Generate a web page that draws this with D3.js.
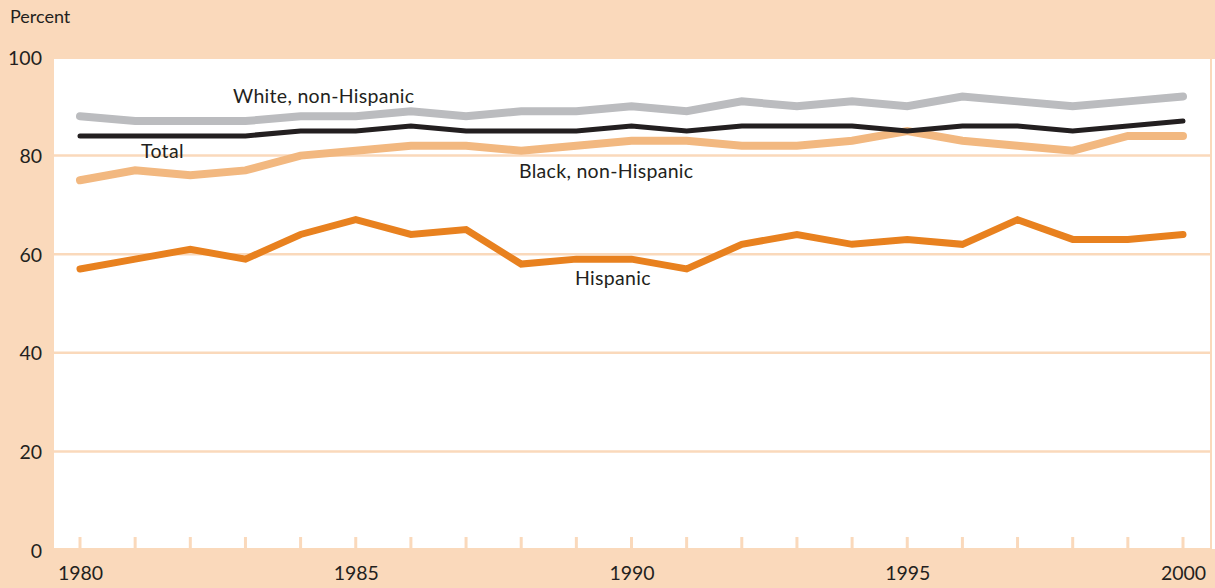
<!DOCTYPE html>
<html>
<head>
<meta charset="utf-8">
<script src="https://cdn.jsdelivr.net/npm/d3@7"></script>
<style>
  html, body { margin: 0; padding: 0; background: #fad9bb; }
  svg { display: block; }
  text { font-family: Lato, "Noto Sans", sans-serif; fill: #231f20; }
</style>
</head>
<body>
<svg id="chart" width="1215" height="588"></svg>
<script>
// Years on the x axis
const years = d3.range(1980, 2001);

// Percent values by group, 1980–2000
const white = [88, 87, 87, 87, 88, 88, 89, 88, 89, 89, 90, 89, 91, 90, 91, 90, 92, 91, 90, 91, 92];
const total = [84, 84, 84, 84, 85, 85, 86, 85, 85, 85, 86, 85, 86, 86, 86, 85, 86, 86, 85, 86, 87];
const black = [75, 77, 76, 77, 80, 81, 82, 82, 81, 82, 83, 83, 82, 82, 83, 85, 83, 82, 81, 84, 84];
const hispanic = [57, 59, 61, 59, 64, 67, 64, 65, 58, 59, 59, 57, 62, 64, 62, 63, 62, 67, 63, 63, 64];

// Axis tick values
const yTicks = [0, 20, 40, 60, 80, 100];
const xTickLabels = [1980, 1985, 1990, 1995, 2000];

const peach = "#fad9bb";
const svg = d3.select("#chart");

const x = d3.scaleLinear().domain([1980, 2000]).range([80, 1183]);
const y = d3.scaleLinear().domain([0, 100]).range([550, 57]);

// Plot panel
const panel = { left: 54, right: 1210, top: 59, bottom: 548 };
svg.append("rect")
  .attr("x", panel.left).attr("y", panel.top)
  .attr("width", panel.right - panel.left).attr("height", panel.bottom - panel.top)
  .attr("fill", "#fff");
// thin white margin beyond the right border of the panel
svg.append("rect")
  .attr("x", 1212).attr("y", panel.top)
  .attr("width", 3).attr("height", panel.bottom - panel.top + 1)
  .attr("fill", "#fff");

// Horizontal gridlines
svg.append("g").selectAll("line")
  .data(yTicks.filter(d => d > 0 && d < 100))
  .join("line")
  .attr("x1", panel.left).attr("x2", panel.right)
  .attr("y1", d => y(d)).attr("y2", d => y(d))
  .attr("stroke", peach).attr("stroke-width", 2.5);

// Year tick marks along the bottom of the panel
svg.append("g").selectAll("line")
  .data(years)
  .join("line")
  .attr("x1", d => x(d)).attr("x2", d => x(d))
  .attr("y1", panel.bottom - 11).attr("y2", panel.bottom)
  .attr("stroke", peach).attr("stroke-width", 3);

// Y axis labels
const yAxis = d3.axisLeft(y).tickValues(yTicks).tickSize(0).tickPadding(0);
const gy = svg.append("g").attr("transform", "translate(42,0)").call(yAxis);
gy.select(".domain").remove();
gy.selectAll("text")
  .attr("font-size", 19.5)
  .attr("fill", "#231f20")
  .style("font-family", "Lato, 'Noto Sans', sans-serif")
  .attr("dy", "0.36em");

// X axis labels
const xAxis = d3.axisBottom(x).tickValues(xTickLabels).tickFormat(d3.format("d")).tickSize(0).tickPadding(0);
const gx = svg.append("g").attr("transform", "translate(0,566)").call(xAxis);
gx.select(".domain").remove();
gx.selectAll("text")
  .attr("font-size", 19.5)
  .attr("fill", "#231f20")
  .style("font-family", "Lato, 'Noto Sans', sans-serif")
  .attr("dy", "0.72em");

svg.append("text").attr("x", 10).attr("y", 23).attr("font-size", 18).text("Percent");

// Series lines
const line = d3.line().x((d, i) => x(years[i])).y(d => y(d));
const series = [
  { values: white, color: "#bbbcbf", width: 8 },
  { values: black, color: "#f2b880", width: 8 },
  { values: total, color: "#231f20", width: 5 },
  { values: hispanic, color: "#e8811f", width: 7 }
];
svg.append("g").selectAll("path")
  .data(series)
  .join("path")
  .attr("d", d => line(d.values))
  .attr("fill", "none")
  .attr("stroke", d => d.color)
  .attr("stroke-width", d => d.width)
  .attr("stroke-linecap", "round")
  .attr("stroke-linejoin", "miter");

// Series labels
const labels = [
  { text: "White, non-Hispanic", x: 233, y: 103 },
  { text: "Total", x: 141, y: 158 },
  { text: "Black, non-Hispanic", x: 519, y: 178 },
  { text: "Hispanic", x: 575, y: 285 }
];
svg.append("g").selectAll("text")
  .data(labels)
  .join("text")
  .attr("x", d => d.x).attr("y", d => d.y)
  .attr("font-size", 19.5)
  .attr("letter-spacing", 0.3)
  .text(d => d.text);
</script>
</body>
</html>
